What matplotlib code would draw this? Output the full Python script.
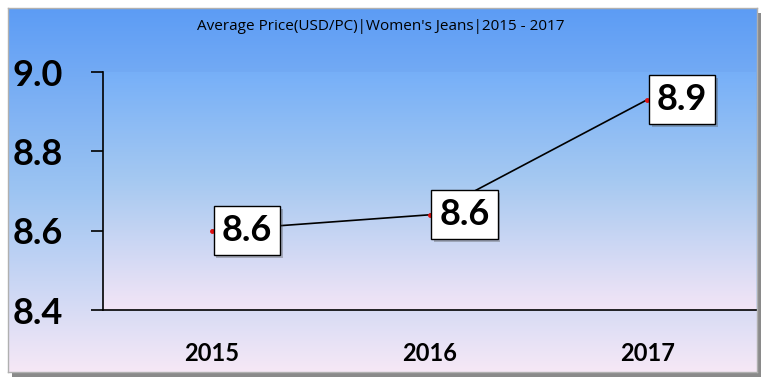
import numpy as np
import matplotlib
matplotlib.use('Agg')
import matplotlib.pyplot as plt
import matplotlib.patheffects as pe
from matplotlib.colors import LinearSegmentedColormap
from matplotlib.patches import Rectangle

# data
years = ['2015', '2016', '2017']
prices = [8.60, 8.64, 8.93]
labels = ['8.6', '8.6', '8.9']
yticks = [8.4, 8.6, 8.8, 9.0]
title = "Average Price(USD/PC)|Women's Jeans|2015 - 2017"

plt.rcParams['font.family'] = ['Lato', 'DejaVu Sans']

fig = plt.figure(figsize=(7.68, 3.84), dpi=100)
fig.patch.set_facecolor('white')

# outer chart area with gradient + shadow frame
W, H = 768, 384
x0, y0, x1, y1 = 8, 8, 757, 372
shadow = Rectangle(((x0 + 4) / W, 1 - (y1 + 5) / H), (x1 - x0) / W, (y1 - y0) / H,
                   transform=fig.transFigure, facecolor='#8a8a8a', edgecolor='none', zorder=-5)
fig.patches.append(shadow)
bg = fig.add_axes([x0 / W, 1 - y1 / H, (x1 - x0) / W, (y1 - y0) / H], zorder=0)
cmap_out = LinearSegmentedColormap.from_list('out', ['#5c9cf5', '#9cc4f2', '#f6e8f6'])
grad = np.linspace(0, 1, 256).reshape(-1, 1)
bg.imshow(grad, aspect='auto', cmap=cmap_out, extent=[0, 1, 0, 1], origin='upper')
bg.set_xlim(0, 1)
bg.set_ylim(0, 1)
for s in bg.spines.values():
    s.set_color('#b0b0b0')
    s.set_linewidth(1)
bg.set_xticks([])
bg.set_yticks([])

# plot area
ax = fig.add_axes([103 / W, 1 - 310 / H, (756 - 103) / W, (310 - 72) / H], zorder=1)
cmap_in = LinearSegmentedColormap.from_list('in', ['#6eabf9', '#a6c9f1', '#f3e5f6'])
ax.imshow(np.linspace(0, 1, 256).reshape(-1, 1), aspect='auto', cmap=cmap_in,
          extent=[0, 1, 0, 1.08], origin='upper', transform=ax.transAxes, zorder=0)

x = np.arange(len(years))
ax.plot(x, prices, color='black', lw=1.2, zorder=2)
ax.plot(x, prices, 'o', color='#e01010', ms=2.5, zorder=3)

for xi, yi, lab in zip(x, prices, labels):
    t = ax.annotate(lab, (xi, yi), xytext=(7, 0), textcoords='offset points',
                    ha='left', va='center', fontsize=26, fontweight='bold', zorder=4,
                    bbox=dict(boxstyle='square,pad=0.22', facecolor='white',
                              edgecolor='black', lw=1))
    t.get_bbox_patch().set_path_effects([pe.SimplePatchShadow(offset=(2, -2), alpha=0.35),
                                         pe.Normal()])

ax.set_xlim(-0.5, 2.5)
ax.set_ylim(8.4, 9.0)
ax.set_xticks(x)
ax.set_xticklabels(years, fontsize=17, fontweight='bold')
ax.set_yticks(yticks)
ax.set_yticklabels([f'{v:.1f}' for v in yticks], fontsize=26, fontweight='bold')
ax.tick_params(axis='x', length=0, pad=23)
ax.tick_params(axis='y', length=9, width=1.2, pad=20)
ax.spines['top'].set_visible(False)
ax.spines['right'].set_visible(False)
ax.spines['left'].set_linewidth(1.2)
ax.spines['bottom'].set_linewidth(1.2)
ax.patch.set_alpha(0)

fig.text(381 / W, 1 - 26 / H, title, ha='center', va='center', fontsize=11,
         family=['Open Sans', 'DejaVu Sans'])

fig.savefig('out.png', dpi=100)
